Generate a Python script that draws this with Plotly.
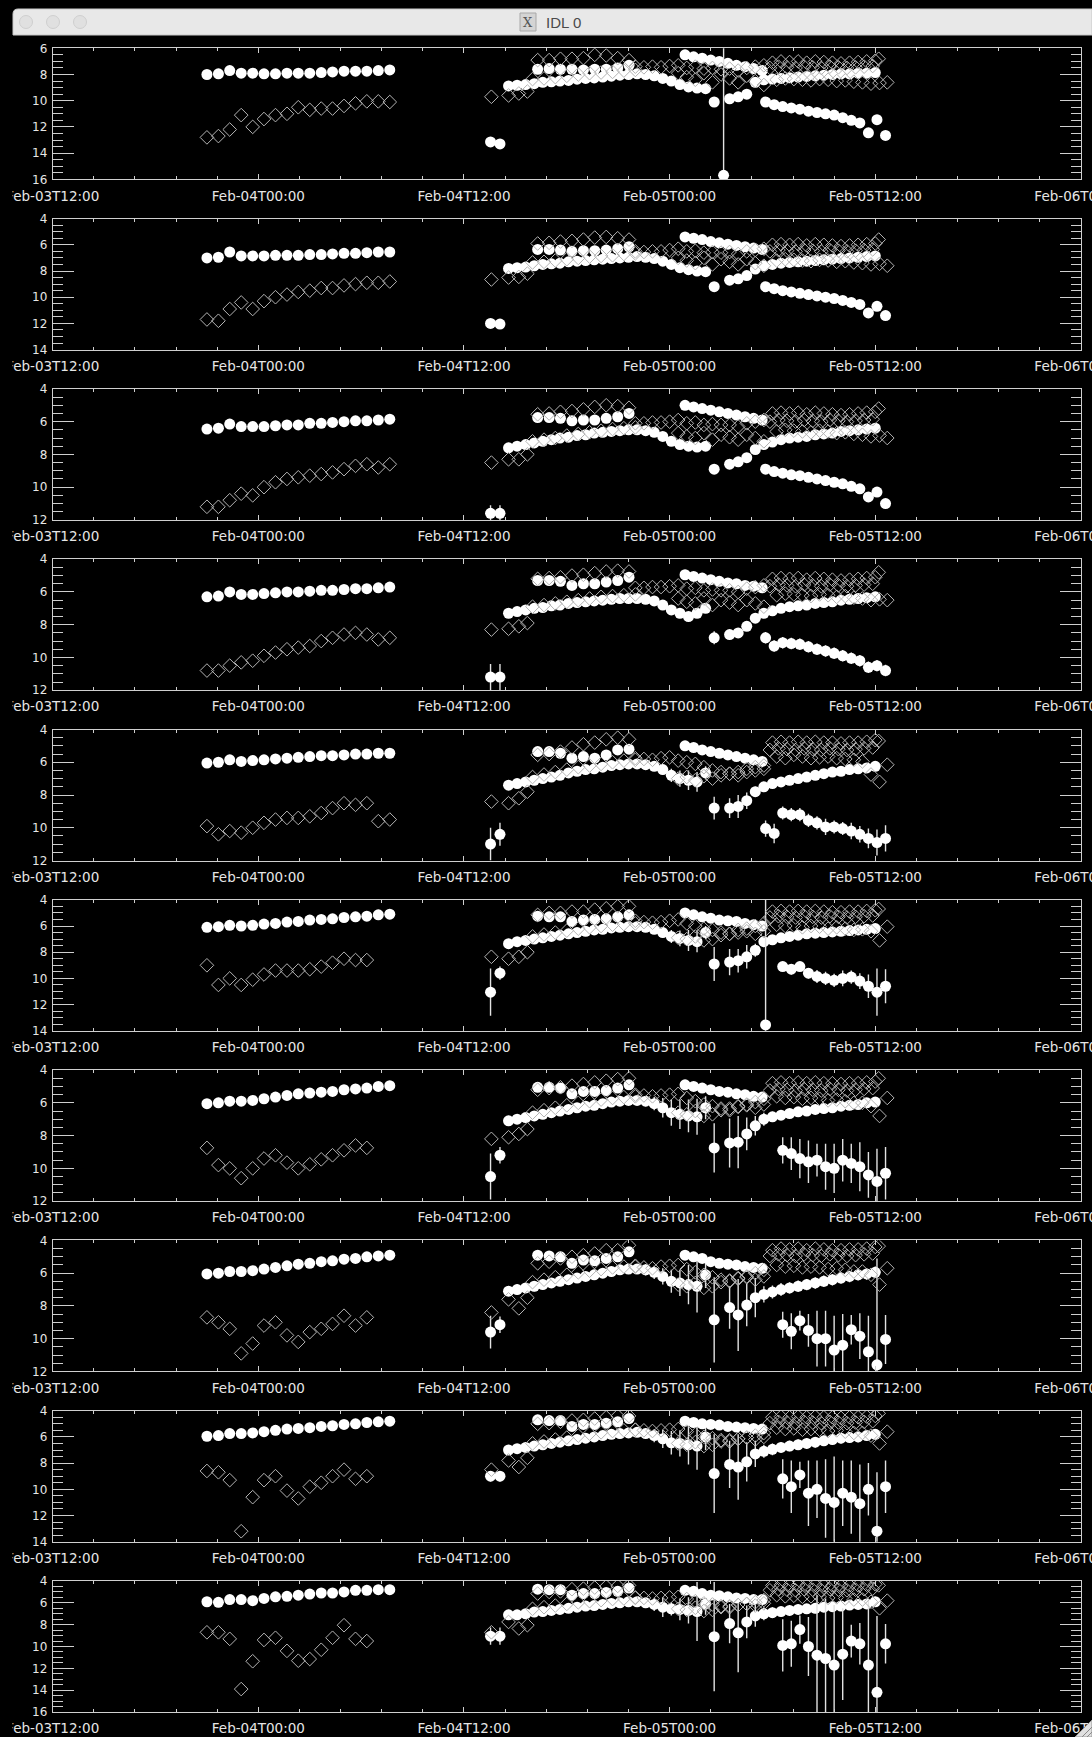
import pandas as pd
import plotly.graph_objects as go

W, H = 1092, 1737
T0 = pd.Timestamp("2015-02-03 12:00")

# ---------------- time grids (hours after Feb-03 12:00) ----------------
T_SEG1 = [9.0, 9.67, 10.33, 11.0, 11.67, 12.33, 13.0, 13.67, 14.33, 15.0, 15.67, 16.33, 17.0, 17.67, 18.33, 19.0, 19.67]
T_EARLY = [25.55, 26.1]
T_M1 = [26.6, 27.1, 27.6, 28.1, 28.6, 29.1, 29.6, 30.1, 30.6, 31.1, 31.6, 32.1, 32.6, 33.1, 33.6, 34.1, 34.6, 35.1, 35.6, 36.1, 36.6, 37.1, 37.6, 38.1]
T_J = [38.6]
T_M2 = [39.5, 40.0, 40.5, 41.0, 41.5, 42.0, 42.5, 43.0, 43.5, 44.0, 44.5, 45.0, 45.5, 46.0, 46.5, 47.0, 47.5, 48.0]
T_U1 = [28.3, 28.97, 29.63, 30.3, 30.97, 31.63, 32.3, 32.97, 33.63]
T_U2 = [36.9, 37.4, 37.9, 38.4, 38.9, 39.4, 39.9, 40.4, 40.9, 41.4]
T_F = [41.6, 42.1, 42.6, 43.1, 43.6, 44.1, 44.6, 45.1, 45.6, 46.1, 46.6, 47.1, 47.6, 48.1, 48.6]
T_DS = [25.6, 26.6, 27.2, 27.7]
T_DMT = [28.0, 28.67, 29.33, 30.0, 30.67, 31.33, 32.0, 32.67, 33.33, 34.0]
T_DM = [34.0, 34.5, 35.0, 35.5, 36.0, 36.5, 37.0, 37.5, 38.0, 38.5, 39.0, 39.5, 40.0, 40.5, 41.0, 41.5]
T_DL = [36.5, 37.0, 37.5, 38.0, 38.5, 39.0, 39.5, 40.0, 40.5, 41.0, 41.5]
T_DR1 = [42.0, 42.5, 43.0, 43.5, 44.0, 44.5, 45.0, 45.5, 46.0, 46.5, 47.0, 47.5, 48.0]
T_DR2 = [42.25, 42.75, 43.25, 43.75, 44.25, 44.75, 45.25, 45.75, 46.25, 46.75, 47.25, 47.75, 48.25]
T_DR3 = [41.85, 42.35, 42.85, 43.35, 43.85, 44.35, 44.85, 45.35, 45.85, 46.35, 46.85, 47.35, 47.85]
T_DX = [48.2, 48.7]

# ---------------- y ranges per panel (top, bottom) ----------------
Y_TOP = [6, 4, 4, 4, 4, 4, 4, 4, 4, 4]
Y_BOT = [16, 14, 12, 12, 12, 14, 12, 12, 14, 16]

# ---------------- filled circles ----------------
C_SEG1 = [
    [8.0, 7.95, 7.7, 7.9, 7.9, 7.95, 7.95, 7.9, 7.9, 7.9, 7.85, 7.8, 7.75, 7.75, 7.75, 7.7, 7.65],
    [7.0, 6.95, 6.55, 6.85, 6.85, 6.85, 6.8, 6.8, 6.8, 6.75, 6.75, 6.7, 6.65, 6.65, 6.6, 6.55, 6.55],
    [6.45, 6.4, 6.15, 6.3, 6.3, 6.3, 6.25, 6.2, 6.2, 6.1, 6.1, 6.05, 6.0, 5.95, 5.95, 5.9, 5.85],
    [6.3, 6.25, 6.0, 6.15, 6.15, 6.1, 6.05, 6.0, 6.0, 5.95, 5.9, 5.9, 5.85, 5.8, 5.8, 5.75, 5.7],
    [6.05, 6.0, 5.85, 5.95, 5.9, 5.85, 5.8, 5.75, 5.7, 5.65, 5.6, 5.6, 5.55, 5.5, 5.5, 5.45, 5.45],
    [6.1, 6.05, 5.95, 6.0, 5.95, 5.85, 5.8, 5.7, 5.65, 5.55, 5.5, 5.45, 5.35, 5.3, 5.25, 5.15, 5.1],
    [6.05, 6.0, 5.9, 5.9, 5.85, 5.75, 5.65, 5.55, 5.45, 5.4, 5.35, 5.3, 5.2, 5.15, 5.1, 5.0, 4.95],
    [6.05, 6.0, 5.9, 5.9, 5.85, 5.75, 5.65, 5.55, 5.45, 5.4, 5.3, 5.25, 5.15, 5.1, 5.0, 4.95, 4.9],
    [5.95, 5.9, 5.75, 5.75, 5.7, 5.6, 5.5, 5.4, 5.35, 5.3, 5.2, 5.15, 5.05, 5.0, 4.9, 4.85, 4.8],
    [5.9, 5.95, 5.7, 5.7, 5.8, 5.6, 5.45, 5.4, 5.3, 5.2, 5.1, 5.1, 5.0, 4.85, 4.85, 4.8, 4.8],
]
C_EARLY = [[13.15, 13.3], [12.0, 12.05], [11.6, 11.6], [11.2, 11.2], [11.0, 10.4],
           [11.05, 9.6], [10.5, 9.2], [9.6, 9.15], [9.0, 9.0], [9.05, 9.05]]
E_EARLY = [[0.15, 0.15], [0.2, 0.2], [0.5, 0.5], [0.8, 0.8], [1.0, 0.7],
           [1.8, 0.5], [1.4, 0.5], [1.0, 0.5], [0.4, 0.4], [0.8, 0.8]]
C_M1 = [
    [8.87, 8.82, 8.77, 8.7, 8.6, 8.56, 8.5, 8.45, 8.36, 8.3, 8.26, 8.2, 8.13, 8.05, 8.0, 7.95, 8.0, 8.1, 8.3, 8.5, 8.77, 8.95, 9.03, 9.08],
    [7.8, 7.75, 7.7, 7.6, 7.5, 7.45, 7.4, 7.3, 7.25, 7.2, 7.15, 7.1, 7.05, 7.0, 6.95, 6.9, 6.95, 7.05, 7.25, 7.5, 7.75, 7.9, 8.0, 8.05],
    [7.6, 7.5, 7.4, 7.3, 7.2, 7.1, 7.0, 6.95, 6.85, 6.8, 6.7, 6.65, 6.6, 6.55, 6.5, 6.5, 6.55, 6.65, 6.9, 7.2, 7.4, 7.5, 7.55, 7.5],
    [7.3, 7.2, 7.1, 7.0, 6.95, 6.85, 6.8, 6.7, 6.65, 6.6, 6.55, 6.5, 6.45, 6.4, 6.4, 6.4, 6.45, 6.55, 6.8, 7.1, 7.3, 7.5, 7.3, 7.0],
    [7.4, 7.3, 7.2, 7.1, 7.0, 6.9, 6.8, 6.65, 6.55, 6.45, 6.4, 6.3, 6.2, 6.15, 6.1, 6.1, 6.15, 6.25, 6.45, 6.8, 7.0, 7.1, 7.2, 6.65],
    [7.35, 7.2, 7.1, 7.0, 6.9, 6.8, 6.7, 6.6, 6.5, 6.4, 6.3, 6.25, 6.15, 6.1, 6.05, 6.05, 6.1, 6.25, 6.5, 6.8, 6.95, 7.1, 7.2, 6.5],
    [7.1, 7.0, 6.9, 6.8, 6.7, 6.6, 6.5, 6.4, 6.3, 6.2, 6.15, 6.05, 5.95, 5.9, 5.85, 5.85, 5.9, 6.05, 6.3, 6.6, 6.7, 6.8, 6.85, 6.3],
    [7.1, 7.0, 6.9, 6.8, 6.7, 6.6, 6.5, 6.4, 6.3, 6.2, 6.1, 6.0, 5.9, 5.8, 5.75, 5.75, 5.8, 5.95, 6.2, 6.5, 6.6, 6.7, 6.8, 6.1],
    [7.0, 6.9, 6.8, 6.7, 6.6, 6.5, 6.4, 6.3, 6.2, 6.1, 6.0, 5.9, 5.8, 5.75, 5.7, 5.65, 5.75, 5.9, 6.15, 6.45, 6.5, 6.6, 6.7, 6.0],
    [7.1, 7.1, 7.0, 6.85, 6.8, 6.7, 6.6, 6.5, 6.4, 6.3, 6.25, 6.15, 6.05, 6.0, 5.9, 5.9, 6.0, 6.15, 6.4, 6.55, 6.6, 6.7, 6.8, 6.1],
]
E_M1 = [
    0.1, 0.1, 0.12, 0.15,
    [0.1, 0.1, 0.1, 0.1, 0.1, 0.1, 0.1, 0.1, 0.1, 0.1, 0.1, 0.1, 0.1, 0.1, 0.1, 0.1, 0.15, 0.2, 0.3, 0.4, 0.5, 0.6, 0.6, 0.4],
    [0.15, 0.15, 0.15, 0.15, 0.15, 0.15, 0.15, 0.15, 0.15, 0.15, 0.15, 0.15, 0.15, 0.15, 0.15, 0.2, 0.2, 0.3, 0.4, 0.5, 0.6, 0.8, 0.8, 0.5],
    [0.2, 0.2, 0.2, 0.2, 0.2, 0.2, 0.2, 0.2, 0.2, 0.2, 0.2, 0.2, 0.2, 0.2, 0.2, 0.25, 0.3, 0.4, 0.6, 0.8, 0.9, 1.0, 1.1, 0.7],
    [0.3, 0.3, 0.3, 0.3, 0.3, 0.3, 0.3, 0.3, 0.3, 0.3, 0.3, 0.3, 0.3, 0.3, 0.3, 0.3, 0.35, 0.4, 0.5, 0.7, 0.8, 1.2, 1.6, 0.8],
    [0.3, 0.3, 0.3, 0.3, 0.3, 0.3, 0.3, 0.3, 0.3, 0.3, 0.3, 0.3, 0.3, 0.3, 0.3, 0.35, 0.4, 0.5, 0.7, 0.9, 1.0, 1.5, 1.8, 1.0],
    [0.3, 0.3, 0.3, 0.3, 0.3, 0.3, 0.3, 0.3, 0.3, 0.3, 0.3, 0.3, 0.3, 0.3, 0.3, 0.35, 0.4, 0.6, 0.9, 0.6, 1.0, 1.2, 2.7, 1.0],
]
C_J = [10.1, 9.2, 8.9, 8.8, 8.8, 8.9, 8.75, 8.85, 8.8, 9.1]
E_J = [0.2, 0.2, 0.3, 0.4, 0.7, 1.3, 1.5, 2.6, 3.0, 5.0]
C_M2 = [
    [9.85, 9.7, 9.5, 8.6, 8.4, 8.35, 8.3, 8.25, 8.2, 8.15, 8.1, 8.05, 8.0, 7.95, 7.95, 7.9, 7.9, 7.85],
    [8.7, 8.6, 8.35, 7.85, 7.6, 7.5, 7.4, 7.35, 7.3, 7.25, 7.2, 7.15, 7.1, 7.05, 7.0, 6.95, 6.9, 6.85],
    [8.6, 8.45, 8.2, 7.7, 7.4, 7.25, 7.1, 7.0, 6.95, 6.9, 6.8, 6.75, 6.7, 6.6, 6.55, 6.5, 6.45, 6.4],
    [8.6, 8.5, 8.1, 7.6, 7.3, 7.15, 7.0, 6.9, 6.85, 6.8, 6.7, 6.65, 6.6, 6.5, 6.45, 6.4, 6.35, 6.3],
    [8.8, 8.7, 8.35, 7.8, 7.5, 7.3, 7.2, 7.1, 7.0, 6.9, 6.8, 6.7, 6.6, 6.55, 6.45, 6.4, 6.35, 6.25],
    [8.75, 8.65, 8.35, 7.85, 7.2, 7.05, 6.9, 6.8, 6.7, 6.6, 6.55, 6.5, 6.45, 6.4, 6.35, 6.3, 6.25, 6.2],
    [8.45, 8.4, 7.9, 7.4, 7.0, 6.85, 6.75, 6.65, 6.55, 6.5, 6.4, 6.35, 6.3, 6.2, 6.15, 6.1, 6.0, 5.95],
    [8.1, 8.55, 7.95, 7.5, 7.3, 7.15, 7.0, 6.9, 6.8, 6.7, 6.6, 6.5, 6.4, 6.3, 6.2, 6.1, 6.05, 5.95],
    [8.1, 8.3, 7.9, 7.3, 7.1, 6.95, 6.8, 6.7, 6.6, 6.5, 6.4, 6.3, 6.2, 6.1, 6.05, 6.0, 5.9, 5.8],
    [7.9, 8.75, 7.75, 7.2, 7.0, 6.9, 6.8, 6.7, 6.6, 6.55, 6.5, 6.4, 6.35, 6.3, 6.2, 6.15, 6.1, 5.9],
]
E_M2 = [
    0.1, 0.1, 0.12, 0.15,
    [0.6, 0.7, 0.5, 0.3, 0.2, 0.15, 0.15, 0.15, 0.15, 0.15, 0.15, 0.15, 0.15, 0.15, 0.15, 0.15, 0.15, 0.15],
    [1.0, 0.9, 0.9, 0.5, 0.3, 0.2, 0.2, 0.2, 0.2, 0.2, 0.2, 0.2, 0.2, 0.2, 0.2, 0.2, 0.2, 0.2],
    [1.5, 1.6, 1.0, 0.6, 0.4, 0.3, 0.3, 0.3, 0.3, 0.3, 0.3, 0.3, 0.3, 0.3, 0.3, 0.3, 0.3, 0.3],
    [1.3, 2.2, 1.3, 1.2, 0.5, 0.4, 0.4, 0.35, 0.35, 0.35, 0.35, 0.35, 0.35, 0.35, 0.35, 0.35, 0.35, 0.35],
    [1.8, 2.5, 1.5, 1.0, 0.5, 0.45, 0.4, 0.4, 0.4, 0.4, 0.4, 0.4, 0.4, 0.4, 0.4, 0.4, 0.4, 0.4],
    [1.8, 3.6, 1.5, 1.0, 0.6, 0.5, 0.45, 0.45, 0.45, 0.45, 0.45, 0.45, 0.45, 0.45, 0.45, 0.45, 0.45, 0.45],
]
C_U1 = [
    [7.6, 7.55, 7.6, 7.6, 7.65, 7.6, 7.6, 7.5, 7.3],
    [6.35, 6.35, 6.4, 6.5, 6.45, 6.45, 6.4, 6.3, 6.15],
    [5.75, 5.75, 5.8, 5.95, 5.9, 5.9, 5.8, 5.7, 5.5],
    [5.3, 5.3, 5.35, 5.6, 5.5, 5.5, 5.4, 5.3, 5.1],
    [5.35, 5.35, 5.45, 5.75, 5.65, 5.75, 5.55, 5.25, 5.2],
    [5.25, 5.3, 5.3, 5.65, 5.55, 5.5, 5.45, 5.3, 5.15],
    [5.05, 5.05, 5.1, 5.45, 5.3, 5.3, 5.25, 5.1, 4.9],
    [4.9, 4.95, 5.0, 5.4, 5.2, 5.25, 5.1, 5.0, 4.7],
    [4.7, 4.75, 4.75, 5.2, 5.05, 5.05, 4.95, 4.85, 4.6],
    [4.75, 4.8, 4.8, 5.3, 5.15, 5.15, 5.05, 4.95, 4.65],
]
C_U2 = [
    [6.5, 6.65, 6.75, 6.9, 7.0, 7.15, 7.3, 7.4, 7.55, 7.7],
    [5.4, 5.5, 5.6, 5.75, 5.85, 5.95, 6.05, 6.15, 6.25, 6.35],
    [5.0, 5.1, 5.2, 5.3, 5.4, 5.5, 5.6, 5.7, 5.8, 5.9],
    [4.95, 5.05, 5.15, 5.25, 5.35, 5.45, 5.5, 5.6, 5.65, 5.75],
    [5.0, 5.1, 5.25, 5.35, 5.45, 5.55, 5.65, 5.75, 5.85, 5.95],
    [5.0, 5.15, 5.3, 5.4, 5.55, 5.6, 5.65, 5.8, 5.9, 6.0],
    [4.9, 5.0, 5.1, 5.2, 5.3, 5.35, 5.45, 5.5, 5.6, 5.65],
    [4.9, 5.0, 5.1, 5.3, 5.4, 5.45, 5.5, 5.6, 5.65, 5.7],
    [4.8, 4.9, 5.0, 5.05, 5.1, 5.2, 5.25, 5.3, 5.35, 5.4],
    [4.85, 4.95, 5.15, 5.3, 5.35, 5.45, 5.55, 5.6, 5.7, 5.7],
]
E_U = [0.1, 0.1, 0.1, 0.1, 0.15, 0.15, 0.15, 0.2, 0.2, 0.2]
C_F = [
    [10.1, 10.3, 10.45, 10.55, 10.65, 10.8, 10.9, 11.0, 11.1, 11.3, 11.5, 11.7, 12.45, 11.45, 12.65],
    [9.2, 9.35, 9.5, 9.6, 9.7, 9.8, 9.9, 10.0, 10.1, 10.25, 10.4, 10.55, 11.2, 10.7, 11.4],
    [8.9, 9.05, 9.15, 9.25, 9.3, 9.4, 9.5, 9.6, 9.7, 9.8, 9.95, 10.1, 10.6, 10.3, 11.0],
    [8.8, 9.3, 9.1, 9.15, 9.2, 9.35, 9.5, 9.6, 9.75, 9.9, 10.05, 10.2, 10.6, 10.5, 10.8],
    [10.05, 10.35, 9.1, 9.2, 9.2, 9.55, 9.7, 9.95, 9.95, 10.05, 10.2, 10.4, 10.65, 10.9, 10.65],
    [13.55, None, 9.1, 9.3, 9.1, 9.6, 9.85, 10.0, 10.15, 10.0, 9.9, 10.2, 10.6, 11.05, 10.6],
    [None, None, 8.9, 9.1, 9.4, 9.6, 9.5, 9.9, 10.0, 9.5, 9.7, 9.9, 10.4, 10.8, 10.3],
    [None, None, 9.15, 9.55, 8.9, 9.5, 10.0, 10.0, 10.7, 10.4, 9.45, 9.85, 10.8, 11.6, 10.05],
    [None, None, 9.2, 9.8, 8.9, 10.3, 10.0, 10.7, 11.0, 10.3, 10.6, 11.1, 10.0, 13.2, 9.8],
    [None, None, 9.9, 9.75, 8.45, 10.0, 10.8, 11.1, 11.7, 10.7, 9.5, 9.75, 11.7, 14.2, 9.75],
]
E_F = [
    0.15, 0.2, 0.25, 0.35,
    [0.5, 0.6, 0.4, 0.4, 0.4, 0.4, 0.4, 0.5, 0.4, 0.4, 0.5, 0.5, 0.6, 0.8, 0.8],
    [10.0, 0, 0.3, 0.4, 0.3, 0.4, 0.5, 0.5, 0.5, 0.6, 0.5, 0.6, 0.9, 1.8, 1.3],
    [0, 0, 0.8, 1.0, 1.2, 1.3, 1.0, 1.4, 1.5, 1.3, 1.2, 1.5, 1.4, 2.0, 1.6],
    [0, 0, 0.8, 1.1, 0.6, 1.0, 1.7, 1.7, 2.1, 1.9, 0.9, 1.4, 2.2, 6.5, 1.5],
    [0, 0, 1.5, 2.0, 1.0, 2.5, 2.2, 3.0, 3.5, 2.5, 2.8, 3.0, 2.0, 4.5, 2.0],
    [0, 0, 2.4, 2.1, 1.3, 2.7, 5.5, 5.5, 5.5, 4.2, 1.5, 1.9, 6.0, 7.0, 1.8],
]
E_SEG1 = [0.08, 0.08, 0.08, 0.08, 0.1, 0.1, 0.1, 0.1, 0.12, 0.12]
# isolated deviant point (panel 1 only)
X_T = [39.15, None, None, None, None, None, None, None, None, None]
X_V = [15.7, None, None, None, None, None, None, None, None, None]
X_E = [10.0, None, None, None, None, None, None, None, None, None]

# ---------------- open diamonds ----------------
D_SEG1 = [
    [12.8, 12.7, 12.2, 11.1, 12.0, 11.4, 11.1, 11.0, 10.5, 10.7, 10.6, 10.6, 10.4, 10.2, 10.05, 10.05, 10.1],
    [11.7, 11.8, 10.9, 10.4, 10.9, 10.3, 10.0, 9.8, 9.6, 9.5, 9.3, 9.3, 9.1, 9.0, 8.9, 8.9, 8.8],
    [11.2, 11.2, 10.8, 10.4, 10.5, 10.0, 9.7, 9.5, 9.4, 9.3, 9.2, 9.1, 8.9, 8.7, 8.6, 8.8, 8.6],
    [10.8, 10.8, 10.5, 10.3, 10.2, 9.9, 9.7, 9.5, 9.4, 9.3, 9.0, 8.8, 8.6, 8.5, 8.6, 8.9, 8.8],
    [9.9, 10.4, 10.2, 10.3, 10.0, 9.7, 9.5, 9.4, 9.4, 9.3, 9.1, 8.8, 8.5, 8.6, 8.5, 9.6, 9.5],
    [9.0, 10.5, 10.0, 10.5, 10.1, 9.7, 9.4, 9.4, 9.4, 9.3, 9.1, 8.8, 8.5, 8.6, 8.6, None, None],
    [8.75, 9.8, 10.0, 10.6, 10.0, 9.4, 9.2, 9.65, 10.0, 9.75, 9.45, 9.2, 8.9, 8.6, 8.75, None, None],
    [8.7, 9.0, 9.4, 10.9, 10.3, 9.2, 9.0, 9.8, 10.2, 9.6, 9.4, 9.1, 8.6, 9.2, 8.7, None, None],
    [8.6, 8.7, 9.3, 13.2, 10.6, 9.3, 9.0, 10.1, 10.7, 9.8, 9.5, 9.0, 8.5, 9.2, 9.0, None, None],
    [8.7, 8.7, 9.3, 13.9, 11.35, 9.4, 9.2, 10.4, 11.3, 11.15, 10.3, 9.2, 8.05, 9.3, 9.5, None, None],
]
D_DS = [[9.7, 9.6, 9.45, 9.3], [8.65, 8.5, 8.45, 8.2], [8.5, 8.3, 8.3, 8.0], [8.3, 8.25, 8.1, 7.9],
        [8.4, 8.5, 8.2, 7.8], [8.35, 8.5, 8.35, 8.0], [8.2, 8.1, 7.9, 7.6], [8.4, 7.6, 8.15, 7.5],
        [8.5, 7.8, 8.3, 7.6], [8.7, 7.75, 8.35, 8.05]]
D_DU = [
    [6.9, 6.9, 6.8, 6.8, 6.75, 6.5, 6.55, 6.75, 6.9],
    [5.9, 5.85, 5.75, 5.7, 5.6, 5.45, 5.4, 5.5, 5.6],
    [5.55, 5.5, 5.4, 5.35, 5.25, 5.1, 5.0, 5.05, 5.15],
    [5.2, 5.15, 5.1, 5.0, 4.95, 4.85, 4.75, 4.7, 4.75],
    [5.55, 5.5, 5.35, 5.1, 4.9, 4.8, 4.6, 4.5, 4.6],
    [5.15, 5.0, 5.0, 4.9, 4.9, 4.75, 4.65, 4.5, 4.5],
    [5.2, 5.1, 5.05, 4.95, 4.85, 4.75, 4.65, 4.55, 4.5],
    [5.4, 5.3, 5.1, 5.0, 4.9, 4.8, 4.6, 4.6, 4.3],
    [5.0, 4.95, 4.85, 4.75, 4.7, 4.6, 4.5, 4.4, 4.4],
    [5.15, 5.0, 4.95, 4.75, 4.7, 4.6, 4.5, 4.45, 4.4],
]
D_DMT = [
    [8.35, 8.3, 8.2, 8.1, 8.0, 7.9, 7.85, 7.8, 7.7, 7.65],
    [7.35, 7.3, 7.2, 7.1, 7.0, 6.9, 6.85, 6.8, 6.7, 6.65],
    [7.2, 7.1, 7.0, 6.85, 6.75, 6.65, 6.55, 6.45, 6.4, 6.35],
    [6.9, 6.8, 6.7, 6.6, 6.5, 6.4, 6.3, 6.25, 6.2, 6.15],
    [6.9, 6.75, 6.6, 6.45, 6.3, 6.2, 6.1, 6.0, 5.9, 5.85],
    [6.8, 6.65, 6.5, 6.35, 6.2, 6.1, 6.0, 5.9, 5.85, 5.8],
    [6.6, 6.45, 6.3, 6.15, 6.0, 5.9, 5.8, 5.7, 5.65, 5.6],
    [6.55, 6.4, 6.25, 6.1, 5.95, 5.85, 5.75, 5.65, 5.6, 5.55],
    [6.5, 6.35, 6.2, 6.05, 5.9, 5.75, 5.65, 5.55, 5.5, 5.45],
    [6.55, 6.4, 6.25, 6.1, 5.95, 5.85, 5.75, 5.65, 5.6, 5.55],
]
D_DM = [
    [7.4, 7.45, 7.4, 7.45, 7.35, 7.3, 7.5, 7.4, 7.55, 7.5, 7.6, 7.55, 7.7, 7.5, 7.4, 7.3],
    [6.5, 6.55, 6.5, 6.5, 6.4, 6.3, 6.5, 6.45, 6.6, 6.55, 6.6, 6.55, 6.7, 6.5, 6.4, 6.3],
    [6.1, 6.1, 6.05, 6.05, 6.0, 5.9, 6.1, 6.05, 6.2, 6.15, 6.2, 6.2, 6.3, 6.1, 6.0, 5.9],
    [5.75, 5.75, 5.7, 5.7, 5.65, 5.6, 5.8, 5.75, 5.9, 5.85, 5.9, 5.9, 6.0, 5.8, 5.7, 5.6],
    [5.75, 5.8, 5.85, 5.75, 5.7, 5.9, 6.0, 6.1, 6.3, 6.5, 6.6, 6.7, 6.8, 6.6, 6.5, 6.4],
    [5.6, 5.7, 5.75, 5.7, 5.6, 5.5, 5.8, 6.0, 6.2, 6.3, 6.5, 6.6, 6.3, 6.2, 6.0, 5.8],
    [5.5, 5.55, 5.6, 5.55, 5.5, 5.45, 5.7, 5.9, 6.1, 6.2, 6.35, 6.45, 6.2, 6.1, 5.95, 5.75],
    [5.6, 5.65, 5.7, 5.6, 5.55, 5.5, 5.75, 5.95, 6.1, 6.25, 6.4, 6.5, 6.3, 6.2, 6.0, 5.8],
    [5.45, 5.5, 5.55, 5.5, 5.45, 5.4, 5.6, 5.8, 6.0, 6.1, 6.25, 6.35, 6.15, 6.05, 5.9, 5.7],
    [5.5, 5.55, 5.6, 5.55, 5.5, 5.45, 5.65, 5.85, 6.05, 6.15, 6.3, 6.4, 6.2, 6.1, 5.95, 5.75],
]
D_DL = [
    [7.9, 8.2, 8.4, 7.9, 8.6, 8.0, 8.3, 8.6, 8.1, 8.5, 8.8],
    [7.0, 7.2, 7.4, 7.0, 7.5, 7.1, 7.3, 7.5, 7.1, 7.4, 7.6],
    [6.7, 6.9, 7.0, 6.7, 7.1, 6.8, 6.95, 7.1, 6.8, 7.0, 7.2],
    [6.4, 6.6, 6.7, 6.4, 6.8, 6.5, 6.65, 6.8, 6.5, 6.7, 6.9],
    [7.0, 6.9, 7.1, 6.85, 7.0, 6.8, 6.7, 6.6, 6.4, 6.3, 6.2],
    [6.9, 7.0, 6.8, 7.1, 7.0, 6.7, 6.6, 6.5, 6.4, 6.6, 6.4],
    [6.6, 6.7, 6.5, 6.8, 6.7, 6.45, 6.35, 6.25, 6.15, 6.3, 6.1],
    [6.7, 6.8, 6.6, 6.9, 6.8, 6.55, 6.45, 6.35, 6.25, 6.4, 6.2],
    [6.5, 6.6, 6.4, 6.7, 6.6, 6.35, 6.25, 6.15, 6.05, 6.2, 6.0],
    [6.55, 6.65, 6.45, 6.75, 6.65, 6.4, 6.3, 6.2, 6.1, 6.25, 6.05],
]
D_DR1 = [
    [7.1, 7.0, 7.05, 7.0, 7.1, 7.0, 7.05, 7.1, 7.15, 7.1, 7.05, 7.0, 6.95],
    [6.0, 5.95, 6.0, 5.95, 6.05, 5.95, 6.0, 6.05, 6.1, 6.05, 6.0, 5.95, 5.9],
    [5.5, 5.45, 5.5, 5.45, 5.55, 5.45, 5.5, 5.55, 5.6, 5.55, 5.5, 5.45, 5.4],
    [5.2, 5.15, 5.2, 5.15, 5.25, 5.15, 5.2, 5.25, 5.3, 5.25, 5.2, 5.15, 5.1],
    [4.8, 4.75, 4.8, 4.75, 4.8, 4.75, 4.8, 4.8, 4.85, 4.8, 4.8, 4.75, 4.65],
    [4.9, 4.85, 4.9, 4.85, 4.9, 4.85, 4.9, 4.95, 4.95, 4.9, 4.9, 4.85, 4.8],
    [4.8, 4.75, 4.8, 4.75, 4.8, 4.75, 4.8, 4.8, 4.85, 4.8, 4.8, 4.75, 4.7],
    [4.6, 4.5, 4.55, 4.5, 4.6, 4.5, 4.55, 4.6, 4.6, 4.55, 4.55, 4.5, 4.4],
    [4.5, 4.45, 4.5, 4.45, 4.5, 4.45, 4.5, 4.5, 4.55, 4.5, 4.5, 4.45, 4.4],
    [4.4, 4.35, 4.4, 4.35, 4.4, 4.35, 4.4, 4.4, 4.45, 4.4, 4.4, 4.35, 4.3],
]
D_DR2 = [
    [8.4, 8.3, 8.35, 8.4, 8.45, 8.35, 8.4, 8.5, 8.45, 8.55, 8.6, 8.7, 8.65],
    [7.2, 7.1, 7.15, 7.2, 7.25, 7.15, 7.2, 7.3, 7.25, 7.35, 7.4, 7.5, 7.45],
    [6.6, 6.5, 6.55, 6.6, 6.65, 6.55, 6.6, 6.7, 6.65, 6.75, 6.8, 6.9, 6.85],
    [6.2, 6.1, 6.15, 6.2, 6.25, 6.15, 6.2, 6.3, 6.25, 6.35, 6.4, 6.5, 6.45],
    [5.65, 5.75, 5.55, 5.65, 5.75, 5.7, 5.65, 5.75, 5.8, 5.85, 5.95, 6.75, 7.2],
    [5.9, 6.0, 5.95, 6.1, 6.0, 6.05, 6.2, 6.1, 6.2, 6.3, 6.25, 6.4, 7.1],
    [5.6, 5.7, 5.65, 5.75, 5.7, 5.75, 5.85, 5.8, 5.9, 6.0, 6.0, 6.2, 6.8],
    [5.5, 5.6, 5.55, 5.65, 5.6, 5.65, 5.75, 5.7, 5.8, 5.9, 5.9, 6.1, 6.7],
    [5.3, 5.4, 5.35, 5.45, 5.4, 5.45, 5.55, 5.5, 5.6, 5.7, 5.7, 5.9, 6.5],
    [5.3, 5.4, 5.35, 5.45, 5.4, 5.45, 5.55, 5.5, 5.6, 5.7, 5.7, 5.9, 6.5],
]
D_DR3 = [
    [7.5, 7.4, 7.45, 7.5, 7.4, 7.45, 7.5, 7.4, 7.45, 7.5, 7.45, 7.4, 7.35],
    [6.5, 6.4, 6.45, 6.5, 6.4, 6.45, 6.5, 6.4, 6.45, 6.5, 6.45, 6.4, 6.35],
    [6.0, 5.9, 5.95, 6.0, 5.9, 5.95, 6.0, 5.9, 5.95, 6.0, 5.95, 5.9, 5.85],
    [5.65, 5.55, 5.6, 5.65, 5.55, 5.6, 5.65, 5.55, 5.6, 5.65, 5.6, 5.55, 5.5],
    [5.25, 5.15, 5.2, 5.25, 5.15, 5.2, 5.25, 5.15, 5.2, 5.25, 5.2, 5.15, 5.1],
    [5.35, 5.25, 5.3, 5.35, 5.25, 5.3, 5.35, 5.25, 5.3, 5.35, 5.3, 5.25, 5.2],
    [5.25, 5.15, 5.2, 5.25, 5.15, 5.2, 5.25, 5.15, 5.2, 5.25, 5.2, 5.15, 5.1],
    [4.95, 4.85, 4.9, 4.95, 4.85, 4.9, 4.95, 4.85, 4.9, 4.95, 4.9, 4.85, 4.8],
    [4.95, 4.85, 4.9, 4.95, 4.85, 4.9, 4.95, 4.85, 4.9, 4.95, 4.9, 4.85, 4.8],
    [4.85, 4.75, 4.8, 4.85, 4.75, 4.8, 4.85, 4.75, 4.8, 4.85, 4.8, 4.75, 4.7],
]
D_DX = [[6.8, 8.6], [5.6, 7.6], [5.2, 7.0], [4.8, 6.5], [4.7, 6.15],
        [4.7, 6.05], [4.5, 5.7], [4.35, 5.7], [4.2, 5.6], [4.4, 5.8]]

# ---------------- styling ----------------
BG = "#000000"
AXC = "#cfcfcf"
TXT = "#e6e6e6"
ERRC = "#e2e2e2"
DIAC = "#b4b4b4"
FONT = "DejaVu Sans"

PX_L, PX_R = 52.7, 1080.9
PANEL_TOP0, PITCH, PH = 48.3, 170.3, 131.0


def tt(hours):
    return [T0 + pd.Timedelta(hours=h) for h in hours]


def ebar(err):
    if isinstance(err, (int, float)):
        return dict(type="constant", value=err, color=ERRC, thickness=1.4, width=0)
    return dict(type="data", array=[0 if e is None else e for e in err],
                color=ERRC, thickness=1.4, width=0)


fig = go.Figure()
for k in range(10):
    xa = "x" if k == 0 else f"x{k+1}"
    ya = "y" if k == 0 else f"y{k+1}"
    circ_sets = [
        (T_SEG1, C_SEG1[k], E_SEG1[k]),
        (T_EARLY, C_EARLY[k], E_EARLY[k]),
        (T_M1, C_M1[k], E_M1[k]),
        (T_J, [C_J[k]], [E_J[k]]),
        (T_M2, C_M2[k], E_M2[k]),
        (T_U1, C_U1[k], E_U[k]),
        (T_U2, C_U2[k], E_U[k]),
        (T_F, C_F[k], E_F[k]),
    ]
    if X_T[k] is not None:
        circ_sets.append(([X_T[k]], [X_V[k]], [X_E[k]]))
    for ts, vs, es in circ_sets:
        fig.add_trace(go.Scatter(
            x=tt(ts), y=vs, mode="markers", xaxis=xa, yaxis=ya, showlegend=False,
            marker=dict(symbol="circle", size=11, color="#ffffff", line=dict(width=0)),
            error_y=ebar(es), hoverinfo="skip"))
    dia_sets = [
        (T_SEG1, D_SEG1[k]), (T_DS, D_DS[k]), (T_U1, D_DU[k]),
        (T_DMT, D_DMT[k]), (T_DM, D_DM[k]), (T_DL, D_DL[k]),
        (T_DR1, D_DR1[k]), (T_DR3, D_DR3[k]), (T_DR2, D_DR2[k]), (T_DX, D_DX[k]),
    ]
    for ts, vs in dia_sets:
        fig.add_trace(go.Scatter(
            x=tt(ts), y=vs, mode="markers", xaxis=xa, yaxis=ya, showlegend=False,
            marker=dict(symbol="diamond-open", size=10.5, color=DIAC, line=dict(width=1, color=DIAC)),
            hoverinfo="skip"))

layout = dict(
    width=W, height=H, autosize=False, paper_bgcolor=BG, plot_bgcolor=BG,
    margin=dict(l=0, r=0, t=0, b=0, pad=0, autoexpand=False), showlegend=False,
    font=dict(family=FONT, color=TXT, size=12),
)
x0s = T0.strftime("%Y-%m-%d %H:%M")
x1s = (T0 + pd.Timedelta(hours=60)).strftime("%Y-%m-%d %H:%M")
for k in range(10):
    n = "" if k == 0 else str(k + 1)
    top = PANEL_TOP0 + PITCH * k
    bot = top + PH
    layout[f"xaxis{n}"] = dict(
        domain=[PX_L / W, PX_R / W], anchor="y" + n, type="date", automargin=False,
        range=[x0s, x1s], tickmode="linear", tick0=x0s, dtick=43200000,
        tickformat="%b-%dT%H:%M", ticks="inside", ticklen=5, tickwidth=1, tickcolor=AXC,
        minor=dict(ticks="inside", ticklen=3, dtick=8640000, tick0=x0s, tickcolor=AXC, tickwidth=1, showgrid=False),
        showline=True, linecolor=AXC, linewidth=1, mirror="ticks", showgrid=False, zeroline=False,
        tickfont=dict(family=FONT, size=13.5, color=TXT), ticklabeloverflow="allow",
        ticklabelstandoff=4,
    )
    layout[f"yaxis{n}"] = dict(
        domain=[1 - bot / H, 1 - top / H], anchor="x" + n, automargin=False,
        range=[Y_BOT[k], Y_TOP[k]], tickmode="linear", tick0=0, dtick=2,
        ticks="inside", ticklen=21, tickwidth=1, tickcolor=AXC,
        minor=dict(ticks="inside", ticklen=10, dtick=0.5, tickcolor=AXC, tickwidth=1, showgrid=False),
        showline=True, linecolor=AXC, linewidth=1, mirror="ticks", showgrid=False, zeroline=False,
        tickfont=dict(family=FONT, size=12, color=TXT), ticklabelstandoff=2,
    )
fig.update_layout(**layout)


def px(x):
    return x / W


def py(y):
    return 1 - y / H


shapes = []
# window title bar
shapes.append(dict(type="path", xref="paper", yref="paper", layer="above",
                   path=(f"M {px(13)},{py(35)} L {px(13)},{py(14)} Q {px(13)},{py(9)} {px(18)},{py(9)} "
                         f"L {px(1092)},{py(9)} L {px(1092)},{py(35)} Z"),
                   fillcolor="#e8e8e8", line=dict(color="#c9c9c9", width=1)))
for cx in (26, 53, 80):
    shapes.append(dict(type="circle", xref="paper", yref="paper", layer="above",
                       x0=px(cx - 6.5), x1=px(cx + 6.5), y0=py(28.5), y1=py(15.5),
                       fillcolor="#e0e0e0", line=dict(color="#cfcfcf", width=1)))
shapes.append(dict(type="rect", xref="paper", yref="paper", layer="above",
                   x0=px(520), x1=px(536), y0=py(31), y1=py(13),
                   fillcolor="#d4d4d4", line=dict(color="#a8a8a8", width=1)))
# black strip left of the window edge (clips the first tick label)
shapes.append(dict(type="rect", xref="paper", yref="paper", layer="above",
                   x0=0, x1=px(12.5), y0=0, y1=py(35), fillcolor=BG, line=dict(width=0)))
# resize grip at bottom right
shapes.append(dict(type="path", xref="paper", yref="paper", layer="above",
                   path=f"M {px(1092)},{py(1720)} L {px(1092)},{py(1737)} L {px(1075)},{py(1737)} Z",
                   fillcolor="#e0e0e0", line=dict(color="#9a9a9a", width=1)))
for d in (5, 10):
    shapes.append(dict(type="line", xref="paper", yref="paper", layer="above",
                       x0=px(1092 - d), y0=py(1737), x1=px(1092), y1=py(1737 - d),
                       line=dict(color="#8a8a8a", width=1)))

annotations = [
    dict(x=px(528), y=py(22), xref="paper", yref="paper", text="X", showarrow=False,
         font=dict(family="DejaVu Serif", size=13, color="#555555"), xanchor="center", yanchor="middle"),
    dict(x=px(544), y=py(22), xref="paper", yref="paper", text="IDL 0", showarrow=False,
         font=dict(family="Liberation Sans", size=15, color="#4a4a4a"), xanchor="left", yanchor="middle"),
]
fig.update_layout(shapes=shapes, annotations=annotations)

fig.write_html(
    "out.html",
    config={"responsive": False, "displayModeBar": False},
    post_script=("document.body.style.margin='0px';document.body.style.padding='0px';"
                 "document.body.style.background='#000';document.body.style.overflow='hidden';"
                 "document.documentElement.style.overflow='hidden';"),
)
